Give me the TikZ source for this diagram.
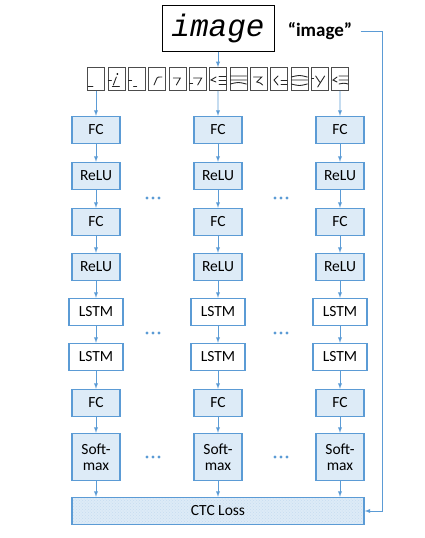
\documentclass[tikz,border=0pt]{standalone}
\usepackage{fontspec}
\setmainfont{Carlito}
\setmonofont{Liberation Mono}
\usetikzlibrary{arrows, patterns, calc}

\definecolor{lineblue}{RGB}{91,155,213}
\definecolor{boxfill}{RGB}{221,235,247}

\begin{document}
\begin{tikzpicture}[x=1pt, y=-1pt, font=\fontsize{15.5}{16}\selectfont]
	\tikzset	{
		layer/.style={draw=lineblue, line width=1.4pt, fill=boxfill, minimum width=48pt, minimum height=27pt, inner sep=0pt},
		lstm/.style={layer, fill=white, minimum width=54pt},
		slice/.style={draw=black!70, line width=0.6pt, minimum width=17pt, minimum height=23pt, inner sep=0pt},
		stroke/.style={draw=black!85, line width=0.9pt, line cap=round},
		link/.style={draw=lineblue, line width=0.9pt, -latex},
	}
	\useasboundingbox (0,0) rectangle (425,538);

	% input picture and its label
	\node[draw, line width=1pt, fill=white, minimum width=112pt, minimum height=46pt, inner sep=0pt, font=\fontsize{31}{31}\selectfont\ttfamily\itshape] (img) at (218,28) {image};
	\node[font=\fontsize{19}{20}\selectfont\bfseries] (label) at (320,31) {“image”};

	% sliding windows over the picture
	\foreach \i in {1,...,13}
		\node[slice] (s\i) at ({96+20.333*(\i-1)},79) {};
	\begin{scope}[shift={(s1)}]	\draw[stroke] (-8,7) -- (-3,7); \end{scope}
	\begin{scope}[shift={(s2)}]	\draw[stroke] (-3,6) -- (0,-2); \fill (1,-5) circle (1); \draw[stroke] (-8,1) -- (-5,1) (-4,7) -- (3,7); \end{scope}
	\begin{scope}[shift={(s3)}]	\draw[stroke] (-8,1) -- (-5,1) (-3,7) -- (0,7); \end{scope}
	\begin{scope}[shift={(s4)}]	\draw[stroke] (-3,6) -- (0,-1) .. controls (1,-2) .. (5,-2); \end{scope}
	\begin{scope}[shift={(s5)}]	\draw[stroke] (-4,-1) -- (3,-1) -- (-1,6); \end{scope}
	\begin{scope}[shift={(s6)}]	\draw[stroke] (-4,-1) -- (4,-1) -- (0,6); \draw[stroke] (-8,4) -- (-5,4); \end{scope}
	\begin{scope}[shift={(s7)}]	\draw[stroke] (-2,-2) -- (-7,1) -- (-2,3); \draw[stroke] (1,-3) -- (8,-3) (1,1) -- (8,1) (1,5) -- (8,5); \end{scope}
	\begin{scope}[shift={(s8)}]	\draw[stroke] (-8,-3) -- (8,-3) (-8,1) -- (8,1) (-8,5) .. controls (0,3) .. (8,5); \end{scope}
	\begin{scope}[shift={(s9)}]	\draw[stroke] (-5,-2) -- (3,-2) -- (-2,3) .. controls (2,4) .. (4,6); \end{scope}
	\begin{scope}[shift={(s10)}]	\draw[stroke] (-1,-3) -- (-5,1) .. controls (-3,3) .. (-1,6); \draw[stroke] (2,1) -- (8,1) (2,5) -- (8,5); \end{scope}
	\begin{scope}[shift={(s11)}]	\draw[stroke] (-8,-2) .. controls (0,-4) .. (8,-2) (-8,1) -- (8,1) (-8,5) .. controls (0,7) .. (8,5); \end{scope}
	\begin{scope}[shift={(s12)}]	\draw[stroke] (-4,-3) -- (0,3) (5,-3) -- (-2,8); \draw[stroke] (-8,-1) -- (-6,-1); \end{scope}
	\begin{scope}[shift={(s13)}]	\draw[stroke] (-3,-2) -- (-7,1) -- (-3,3); \draw[stroke] (-1,-3) -- (8,-3) (-1,1) -- (8,1) (-1,5) .. controls (4,4) .. (8,5); \end{scope}
	\draw[link] (img) -- (img |- s7.north);

	% network columns
	\foreach \c/\x/\s in {A/96/1, B/218/7, C/340/13}{
		\node[layer] (fc1\c) at (\x,130) {FC};
		\node[layer] (relu1\c) at (\x,176) {ReLU};
		\node[layer] (fc2\c) at (\x,222) {FC};
		\node[layer] (relu2\c) at (\x,267) {ReLU};
		\node[lstm] (lstm1\c) at (\x,312) {LSTM};
		\node[lstm] (lstm2\c) at (\x,357) {LSTM};
		\node[layer] (fc3\c) at (\x,403) {FC};
		\node[layer, minimum height=47pt, align=center] (soft\c) at (\x,457) {Soft-\\max};
		\draw[link] (s\s) -- (fc1\c);
		\foreach \a/\b in {fc1/relu1, relu1/fc2, fc2/relu2, relu2/lstm1, lstm1/lstm2, lstm2/fc3, fc3/soft}
			\draw[link] (\a\c) -- (\b\c);
	}

	% dots between columns
	\foreach \x in {153, 281}
		\foreach \y in {198, 333, 457}
			\foreach \d in {-6, 0, 6}
				\fill[lineblue] (\x+\d,\y) circle (1.7);

	% loss
	\node[layer, preaction={fill=boxfill}, pattern=crosshatch dots, pattern color=lineblue!35, minimum width=292pt] (ctc) at (218,511) {CTC Loss};
	\foreach \c in {A, B, C}
		\draw[link] (soft\c) -- (soft\c |- ctc.north);

	\coordinate (turn) at (382,31);
	\draw[link] ([xshift=5pt]label.east) -- (turn) |- (ctc.east);
\end{tikzpicture}
\end{document}
